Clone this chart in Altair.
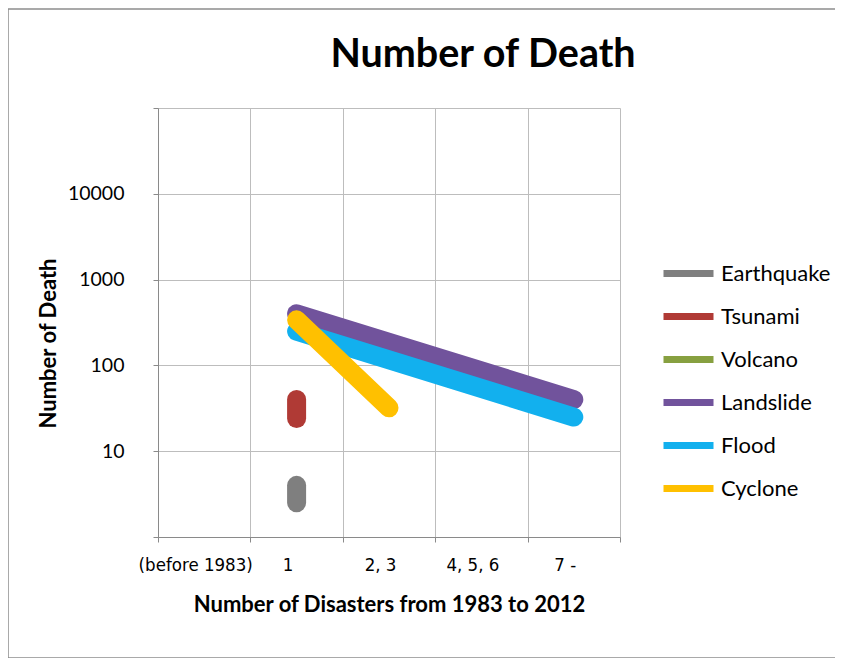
import altair as alt
import pandas as pd

categories = ["(before 1983)", "1", "2, 3", "4, 5, 6", "7 -"]
series = ["Earthquake", "Tsunami", "Volcano", "Landslide", "Flood", "Cyclone"]
colors = ["#7F7F7F", "#B03A35", "#87A040", "#71539C", "#12B0EE", "#FFC000"]

earthquake_x = ["1", "1"]
earthquake_y = [2.5, 4.0]
tsunami_x = ["1", "1"]
tsunami_y = [24, 40]
volcano_x = []
volcano_y = []
landslide_x = ["1", "7 -"]
landslide_y = [400, 40]
flood_x = ["1", "7 -"]
flood_y = [250, 25]
cyclone_x = ["1", "2, 3"]
cyclone_y = [340, 32]

y_ticks = [1, 10, 100, 1000, 10000, 100000]

data_map = {
    "Earthquake": (earthquake_x, earthquake_y),
    "Tsunami": (tsunami_x, tsunami_y),
    "Volcano": (volcano_x, volcano_y),
    "Landslide": (landslide_x, landslide_y),
    "Flood": (flood_x, flood_y),
    "Cyclone": (cyclone_x, cyclone_y),
}

rows = []
for s in series:
    xs, ys = data_map[s]
    for i, (xv, yv) in enumerate(zip(xs, ys)):
        rows.append({"Disaster": s, "Category": xv, "Deaths": yv, "idx": i})
df = pd.DataFrame(rows)

W, H = 462, 429

color_scale = alt.Scale(domain=series, range=colors)
x_enc = alt.X(
    "Category:N",
    scale=alt.Scale(type="band", domain=categories, paddingInner=0, paddingOuter=0),
    sort=categories,
    axis=alt.Axis(
        title="Number of Disasters from 1983 to 2012",
        titleFont="Lato", titleFontSize=22, titleFontWeight="bold", titleColor="#000000",
        titleY=67, titleBaseline="middle",
        labelFont="Liberation Sans Narrow, Arial Narrow, DejaVu Sans Condensed, sans-serif",
        labelFontSize=18.5, labelColor="#000000", labelAngle=0,
        labelBaseline="middle", labelPadding=22, labelOffset=-9,
        tickBand="extent", grid=True, gridColor="#BDBDBD", gridWidth=1,
        domainColor="#8A8A8A", tickColor="#8A8A8A", tickSize=5,
    ),
)
y_enc = alt.Y(
    "Deaths:Q",
    scale=alt.Scale(type="log", domain=[1, 100000], nice=False),
    axis=alt.Axis(
        title="Number of Death",
        titleFont="Lato", titleFontSize=22, titleFontWeight="bold", titleColor="#000000",
        titleAngle=270, titleX=-110, titleY=235, titleAlign="center", titleBaseline="middle",
        values=y_ticks, format="d",
        labelExpr="(datum.value == 1 || datum.value == 100000) ? '' : datum.label",
        labelFont="Lato", labelFontSize=19.5, labelColor="#000000", labelPadding=29,
        grid=True, gridColor="#BDBDBD", gridWidth=1,
        domainColor="#8A8A8A", tickColor="#8A8A8A", tickSize=5,
    ),
)

frame_data = alt.Data(values=[{"b": 1}])
frame_style = dict(color="#8C8C8C", strokeWidth=1.5)
frame_top = alt.Chart(frame_data).mark_rule(**frame_style).encode(
    x=alt.value(-150), x2=alt.value(720), y=alt.value(-99)
)
frame_left = alt.Chart(frame_data).mark_rule(**frame_style).encode(
    x=alt.value(-150), y=alt.value(-99), y2=alt.value(550)
)
frame_bottom = alt.Chart(frame_data).mark_rule(**frame_style).encode(
    x=alt.value(-150), x2=alt.value(720), y=alt.value(550)
)

layers = [frame_top, frame_left, frame_bottom]
for i, s in enumerate(series):
    layer = alt.Chart(df).transform_filter(alt.datum.Disaster == s).mark_line(
        strokeWidth=19, strokeCap="round", strokeJoin="round"
    ).encode(
        x=x_enc,
        y=y_enc,
        color=alt.Color(
            "Disaster:N", scale=color_scale, sort=series,
            legend=alt.Legend(
                title=None, orient="none", legendX=502, legendY=137,
                symbolType="stroke", symbolSize=2500, symbolStrokeWidth=7,
                labelFont="Lato", labelFontSize=22, labelColor="#000000",
                labelOffset=4, rowPadding=-1, values=series,
            ),
        ),
        order="idx:Q",
    )
    layers.append(layer)

chart = alt.layer(*layers).properties(
    width=W, height=H,
    title=alt.TitleParams(
        "Number of Death", font="Lato", fontSize=39.5, fontWeight="bold", color="#000000",
        anchor="middle", dx=94, dy=67, offset=0,
    ),
    autosize=alt.AutoSizeParams(type="none"),
    padding={"left": 150, "top": 100, "right": 215, "bottom": 121},
).configure_view(stroke="transparent")

chart.save("out.html", embed_options={"renderer": "svg", "actions": False})
